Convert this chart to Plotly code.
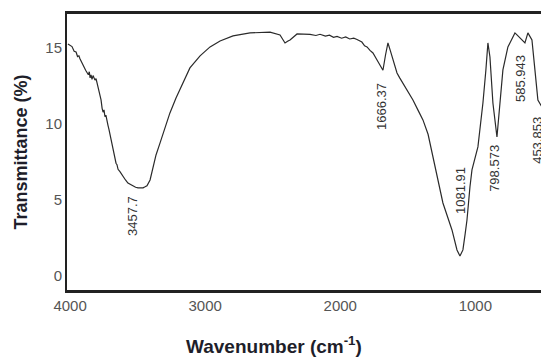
import plotly.graph_objects as go

# Wavenumber (cm^-1) and transmittance (%)
wavenumber = [4016, 4000, 3986, 3970, 3956, 3945, 3935, 3927, 3915, 3905, 3897, 3885, 3875, 3865, 3858,
              3852, 3845, 3838, 3830, 3822, 3816, 3808, 3801, 3793, 3786, 3778, 3771, 3763, 3756, 3749,
              3742, 3735, 3727, 3720, 3712, 3705, 3697, 3690, 3683, 3675, 3668, 3660, 3653, 3645, 3631,
              3615, 3601, 3590, 3572, 3555, 3534, 3515, 3497, 3480, 3460, 3445, 3431, 3408, 3386, 3364,
              3334, 3297, 3261, 3216, 3164, 3113, 3038, 2964, 2890, 2794, 2668, 2520, 2446, 2420, 2409,
              2390, 2372, 2320, 2224, 2180, 2150, 2110, 2080, 2050, 2024, 1990, 1960, 1930, 1900, 1876,
              1840, 1820, 1802, 1780, 1758, 1730, 1706, 1684, 1665, 1647, 1630, 1617, 1600, 1580, 1560,
              1536, 1500, 1462, 1420, 1388, 1350, 1320, 1300, 1284, 1240, 1173, 1136, 1114, 1092, 1075,
              1062, 1040, 1025, 981, 944, 922, 907, 892, 870, 840, 818, 796, 759, 707, 690, 670, 633,
              611, 581, 559, 537, 507]
transmittance = [15.22, 15.15, 15.05, 14.75, 14.70, 14.40, 14.45, 14.25, 14.00, 13.85, 13.75, 13.50, 13.35, 13.20, 13.40,
                 13.00, 13.20, 12.90, 13.15, 12.95, 12.85, 12.95, 12.70, 12.30, 12.05, 11.80, 11.55, 11.00, 10.75, 10.90,
                 10.45, 10.55, 10.10, 9.90, 9.60, 9.30, 8.90, 8.60, 8.30, 8.00, 7.75, 7.40, 7.30, 7.00, 6.85,
                 6.60, 6.45, 6.30, 6.10, 6.00, 5.92, 5.82, 5.78, 5.76, 5.78, 5.85, 5.92, 6.30, 7.10, 7.94,
                 8.73, 9.78, 10.70, 11.68, 12.73, 13.65, 14.44, 15.03, 15.42, 15.75, 15.95, 16.00, 15.81, 15.50, 15.29,
                 15.40, 15.49, 15.88, 15.85, 15.78, 15.86, 15.74, 15.80, 15.66, 15.72, 15.60, 15.68, 15.55, 15.60, 15.52,
                 15.35, 15.10, 15.03, 14.80, 14.63, 14.20, 13.85, 13.50, 14.50, 15.29, 14.80, 14.40, 13.80, 13.32, 13.00,
                 12.66, 12.10, 11.55, 10.80, 10.24, 9.30, 8.10, 7.20, 6.60, 4.79, 3.02, 1.71, 1.31, 1.71, 2.80,
                 3.67, 5.84, 6.96, 8.47, 11.35, 13.52, 15.29, 14.37, 11.35, 9.12, 11.35, 13.52, 15.03, 15.95, 15.80, 15.62, 15.29,
                 15.95, 15.49, 13.52, 11.55, 11.09]

# Peak labels and where they are written
peak_labels = ["3457.7", "1666.37", "1081.91", "798.573", "585.943", "453.853"]
label_x = [3534, 1691, 1114, 855, 670, 545]
label_y = [3.94, 11.09, 5.64, 7.09, 12.99, 8.92]

x_ticks = [4000, 3000, 2000, 1000]
y_ticks = [0, 5, 10, 15]

fig = go.Figure()
fig.add_trace(go.Scatter(x=wavenumber, y=transmittance, mode="lines",
                         line=dict(color="#2a2a2a", width=1.2), showlegend=False))

for t, lx, ly in zip(peak_labels, label_x, label_y):
    fig.add_annotation(x=lx, y=ly, text=t, textangle=-90, showarrow=False,
                       font=dict(family="Liberation Sans", size=13, color="#333333"))

# x-axis title (placed left of plot centre, as in the reference)
fig.add_annotation(xref="paper", yref="paper", x=0.437, y=0, yshift=-55,
                   xanchor="center", yanchor="middle", showarrow=False,
                   text="<b>Wavenumber (cm<sup>-1</sup>)</b>",
                   font=dict(family="Liberation Sans", size=19, color="#1e1e2a"))

fig.update_layout(
    width=541, height=357,
    margin=dict(l=67, r=0, t=14, b=67, autoexpand=False),
    paper_bgcolor="white", plot_bgcolor="white",
    font=dict(family="Liberation Sans", color="#444444"),
)
fig.update_xaxes(range=[4023, 514], tickvals=x_ticks, ticks="", showgrid=False, zeroline=False,
                 showline=True, linecolor="#222222", linewidth=3, mirror=True,
                 tickfont=dict(size=15, color="#555555"))
fig.update_yaxes(range=[-0.92, 17.19], tickvals=y_ticks, ticks="", showgrid=False, zeroline=False,
                 showline=True, linecolor="#222222", linewidth=2,
                 tickfont=dict(size=15, color="#555555"),
                 title=dict(text="<b>Transmittance (%)</b>", standoff=13,
                            font=dict(size=18, color="#1e1e2a")))

fig.write_html("out.html", config={"displayModeBar": False},
               post_script="document.body.style.margin='0';document.body.style.overflow='hidden';")
